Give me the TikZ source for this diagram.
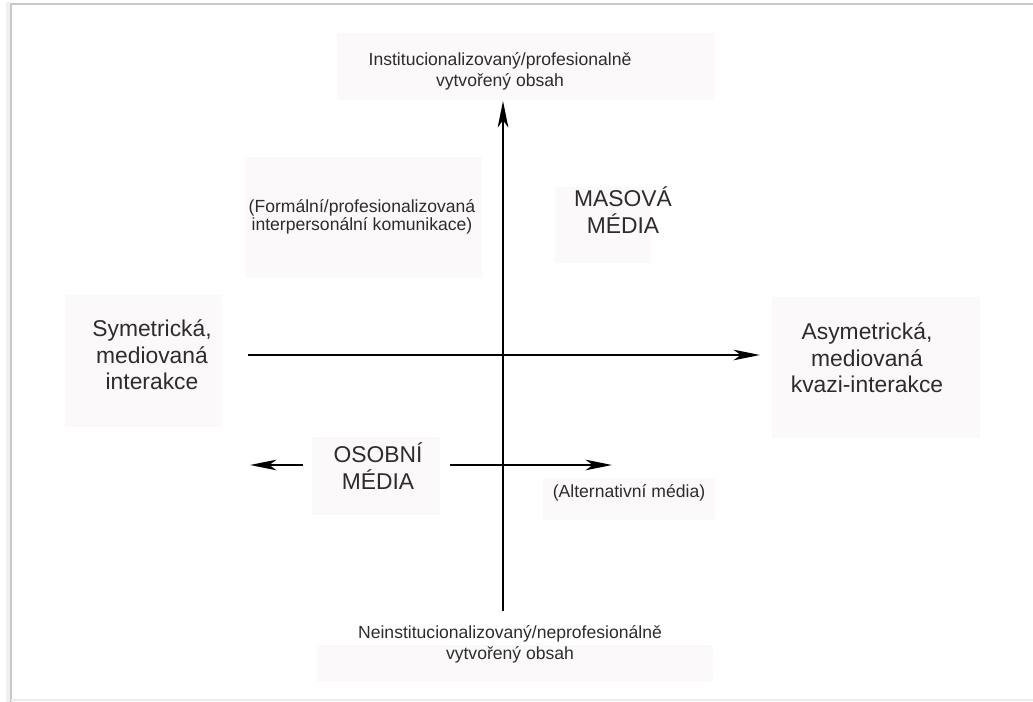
\documentclass[tikz,border=0pt]{standalone}
\usepackage{fontspec}
\setmainfont{Liberation Sans}
\usetikzlibrary{arrows.meta}
\definecolor{figink}{HTML}{2C2C2C}
\definecolor{figtint}{HTML}{FCF9FA}
\definecolor{figframe}{HTML}{C8C8C8}
\newcommand{\smalltxt}{\fontsize{10}{12}\selectfont}
\newcommand{\bigtxt}{\fontsize{13}{15}\selectfont}

\begin{document}
\begin{tikzpicture}[
  x=0.02cm,
  y=-0.02cm,
  every node/.style={figink, inner sep=0pt, align=center},
  axisline/.style={black, line width=1.5pt, -{Stealth[length=15pt, width=6pt, inset=4pt]}},
  tintbox/.style={fill=figtint},
  small/.style={font=\smalltxt},
  big/.style={font=\bigtxt}
]
  \useasboundingbox (0,0) rectangle (1033,702);

  % ---- sheet edge -------------------------------------------------------
  \draw[gray!12, line width=2pt] (8,702) -- (8,2);
  \draw[figframe, line width=0.8pt] (11,702) -- (11,4) -- (1033,4);
  \draw[gray!15, line width=0.8pt] (11,700) -- (1033,700);

  % ---- faint boxes behind the labels ------------------------------------
  \fill[tintbox] (337,33) rectangle (715,100);
  \fill[tintbox] (245,157) rectangle (482,278);
  \fill[tintbox] (555,187) rectangle (651,263);
  \fill[tintbox] (65,295) rectangle (222,427);
  \fill[tintbox] (772,297) rectangle (980,438);
  \fill[tintbox] (312,437) rectangle (440,515);
  \fill[tintbox] (543,478) rectangle (715,520);
  \fill[tintbox] (317,645) rectangle (713,682);

  % ---- labels -----------------------------------------------------------
  \node[small] (inst) at (500,71) {Institucionalizovaný/profesionalně\\vytvořený obsah};
  \node[small, font=\fontsize{10}{10.5}\selectfont] (formal) at (362,217)
    {(Formální/profesionalizovaná\\interpersonální komunikace)};
  \node[big] (mass) at (623,210) {MASOVÁ\\MÉDIA};
  \node[big] (sym) at (152,355) {Symetrická,\\mediovaná\\interakce};
  \node[big] (asym) at (867,358) {Asymetrická,\\mediovaná\\kvazi-interakce};
  \node[big] (pers) at (378,466) {OSOBNÍ\\MÉDIA};
  \node[small] (alt) at (629,493) {(Alternativní média)};
  \node[small] (noninst) at (510,644) {Neinstitucionalizovaný/neprofesionálně\\vytvořený obsah};

  % ---- axes -------------------------------------------------------------
  \coordinate (vbot) at (503,611);
  \coordinate (vtop) at (503,101);
  \coordinate (hleft) at (248,355);
  \coordinate (hright) at (760,355);
  \coordinate (lowLtail) at (303,465);
  \coordinate (lowLtip) at (250,465);
  \coordinate (lowRtail) at (450,465);
  \coordinate (lowRtip) at (612,465);

  \draw[axisline] (vbot) -- (vtop);
  \draw[axisline] (hleft) -- (hright);
  \draw[axisline] (lowLtail) -- (lowLtip);
  \draw[axisline] (lowRtail) -- (lowRtip);
\end{tikzpicture}
\end{document}
